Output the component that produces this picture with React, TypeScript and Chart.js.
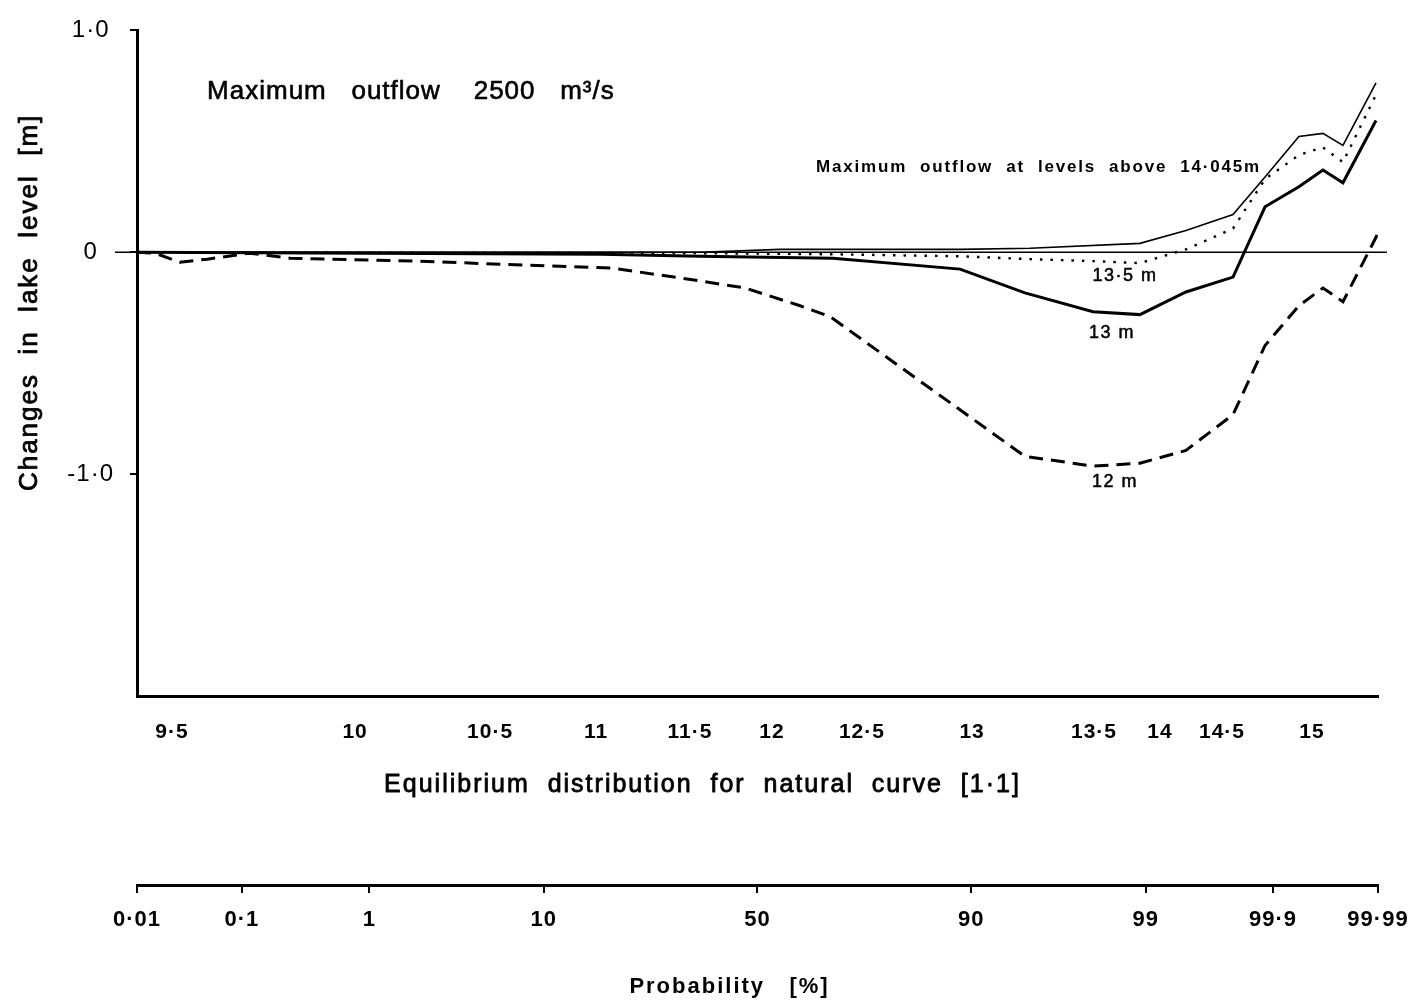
import { useEffect, useRef } from "react";
import { Chart, registerables } from "chart.js";

Chart.register(...registerables);

const W = 1427;
const H = 1005;
const FAMILY = "'Liberation Sans', Arial, Helvetica, sans-serif";

// Probability axis (%), plotted on a normal-probability scale
const probabilityTicks = [0.01, 0.1, 1, 10, 50, 90, 99, 99.9, 99.99];
const probabilityLabels = ["0·01", "0·1", "1", "10", "50", "90", "99", "99·9", "99·99"];

// Natural-curve lake levels (m) and their standard normal deviates
const levelLabels = ["9·5", "10", "10·5", "11", "11·5", "12", "12·5", "13", "13·5", "14", "14·5", "15"];
const levelDeviates = [-3.509, -2.412, -1.603, -0.968, -0.405, 0.087, 0.626, 1.286, 2.017, 2.412, 2.784, 3.323];

// Change in lake level (m)
const changeTicks = [1, 0, -1];

// Maximum outflow at levels above 14·045 m
const maxOutflowDeviate = [-3.719, -0.345, 0.135, 1.214, 1.633, 2.292, 2.568, 2.85, 3.042, 3.245, 3.389, 3.509, 3.707];
const maxOutflowChange = [0, 0, 0.013, 0.013, 0.018, 0.04, 0.098, 0.17, 0.339, 0.522, 0.536, 0.482, 0.763];

// 13·5 m
const level135Deviate = [-3.719, -0.345, 0.435, 1.214, 1.633, 2.011, 2.292, 2.568, 2.85, 3.042, 3.245, 3.389, 3.509, 3.707];
const level135Change = [0, -0.004, -0.009, -0.018, -0.031, -0.04, -0.049, 0.013, 0.107, 0.33, 0.438, 0.473, 0.406, 0.71];

// 13 m
const level13Deviate = [-3.719, -0.944, -0.345, 0.452, 1.214, 1.603, 2.011, 2.292, 2.568, 2.85, 3.042, 3.245, 3.389, 3.509, 3.707];
const level13Change = [0, -0.009, -0.018, -0.027, -0.076, -0.183, -0.268, -0.281, -0.179, -0.112, 0.205, 0.295, 0.371, 0.313, 0.594];

// 12 m
const level12Deviate = [-3.719, -3.611, -3.461, -3.299, -3.042, -2.802, -2.023, -1.543, -0.872, -0.345, -0.075, 0.255, 0.435, 1.603, 2.011, 2.292, 2.568, 2.85, 3.042, 3.245, 3.389, 3.509, 3.719];
const level12Change = [0, -0.004, -0.045, -0.031, -0.004, -0.027, -0.04, -0.054, -0.071, -0.129, -0.161, -0.241, -0.29, -0.92, -0.964, -0.951, -0.893, -0.732, -0.42, -0.241, -0.161, -0.223, 0.085];

// Inverse of the standard normal distribution (Acklam's approximation)
function probit(p: number): number {
  const a = [-3.969683028665376e1, 2.209460984245205e2, -2.759285104469687e2, 1.38357751867269e2, -3.066479806614716e1, 2.506628277459239];
  const b = [-5.447609879822406e1, 1.615858368580409e2, -1.556989798598866e2, 6.680131188771972e1, -1.328068155288572e1];
  const c = [-7.784894002430293e-3, -3.223964580411365e-1, -2.400758277161838, -2.549732539343734, 4.374664141464968, 2.938163982698783];
  const d = [7.784695709041462e-3, 3.224671290700398e-1, 2.445134137142996, 3.754408661907416];
  const pLow = 0.02425;
  if (p < pLow) {
    const q = Math.sqrt(-2 * Math.log(p));
    return (((((c[0] * q + c[1]) * q + c[2]) * q + c[3]) * q + c[4]) * q + c[5]) / ((((d[0] * q + d[1]) * q + d[2]) * q + d[3]) * q + 1);
  }
  if (p <= 1 - pLow) {
    const q = p - 0.5;
    const r = q * q;
    return ((((((a[0] * r + a[1]) * r + a[2]) * r + a[3]) * r + a[4]) * r + a[5]) * q) / (((((b[0] * r + b[1]) * r + b[2]) * r + b[3]) * r + b[4]) * r + 1);
  }
  const q = Math.sqrt(-2 * Math.log(1 - p));
  return -(((((c[0] * q + c[1]) * q + c[2]) * q + c[3]) * q + c[4]) * q + c[5]) / ((((d[0] * q + d[1]) * q + d[2]) * q + d[3]) * q + 1);
}

const deviateMin = probit(0.0001);
const deviateMax = probit(0.9999);

const toPoints = (xs: number[], ys: number[]) => xs.map((x, i) => ({ x, y: ys[i] }));

function drawText(
  ctx: CanvasRenderingContext2D,
  text: string,
  x: number,
  y: number,
  font: string,
  align: CanvasTextAlign,
  spacing: number,
  weightStroke = 0,
  rotate = 0
) {
  ctx.save();
  (ctx as any).letterSpacing = `${spacing}px`;
  ctx.font = font;
  ctx.fillStyle = "#000";
  ctx.strokeStyle = "#000";
  ctx.textAlign = align;
  ctx.textBaseline = "middle";
  ctx.translate(x, y);
  if (rotate) ctx.rotate(rotate);
  ctx.fillText(text, 0, 0);
  if (weightStroke > 0) {
    ctx.lineWidth = weightStroke;
    ctx.lineJoin = "round";
    ctx.strokeText(text, 0, 0);
  }
  ctx.restore();
}

const decorations = {
  id: "decorations",
  beforeLayout(chart: any) {
    chart.ctx.letterSpacing = "1px";
  },
  beforeDraw(chart: any) {
    const { ctx } = chart;
    ctx.save();
    ctx.fillStyle = "#fff";
    ctx.fillRect(0, 0, chart.width, chart.height);
    ctx.restore();
    ctx.letterSpacing = "1px";
  },
  beforeDatasetsDraw(chart: any) {
    const { ctx, chartArea, scales } = chart;
    const y0 = scales.y.getPixelForValue(0);
    ctx.save();
    ctx.strokeStyle = "#000";
    ctx.lineWidth = 1.5;
    ctx.beginPath();
    ctx.moveTo(chartArea.left - 22, y0);
    ctx.lineTo(chartArea.right + 9, y0);
    ctx.stroke();
    ctx.restore();
  },
  afterDraw(chart: any) {
    const { ctx, chartArea, scales } = chart;
    const px = (v: number) => scales.x.getPixelForValue(v);
    const py = (v: number) => scales.y.getPixelForValue(v);

    drawText(ctx, "Maximum   outflow    2500   m³/s", px(-3.299), py(0.723), `26px ${FAMILY}`, "left", 1, 0.6);
    drawText(ctx, "Maximum  outflow  at  levels  above  14·045m", px(0.351), py(0.384), `bold 17px ${FAMILY}`, "left", 1.8);
    drawText(ctx, "13·5 m", px(2.203), py(-0.107), `18px ${FAMILY}`, "center", 1.5, 0.5);
    drawText(ctx, "13 m", px(2.125), py(-0.362), `18px ${FAMILY}`, "center", 1.5, 0.5);
    drawText(ctx, "12 m", px(2.143), py(-1.036), `18px ${FAMILY}`, "center", 1.5, 0.5);

    // axis titles
    const midY = chartArea.top + 272;
    drawText(ctx, "Changes  in  lake  level  [m]", 30, midY, `26px ${FAMILY}`, "center", 2, 0.8, -Math.PI / 2);
    const midX = (chartArea.left + chartArea.right) / 2;
    drawText(ctx, "Equilibrium  distribution  for  natural  curve  [1·1]", midX - 55, scales.x.top + 89, `25px ${FAMILY}`, "center", 2, 0.8);
    drawText(ctx, "Probability   [%]", midX - 28, scales.x2.top + 102, `bold 22px ${FAMILY}`, "center", 2);
  },
};

export default function App() {
  const ref = useRef<HTMLCanvasElement>(null);

  useEffect(() => {
    const canvas = ref.current;
    if (!canvas) return;
    const chart = new Chart(canvas, {
      type: "line",
      data: {
        datasets: [
          {
            label: "Maximum outflow at levels above 14·045 m",
            data: toPoints(maxOutflowDeviate, maxOutflowChange),
            borderColor: "#000",
            borderWidth: 1.6,
          },
          {
            label: "13·5 m",
            data: toPoints(level135Deviate, level135Change),
            borderColor: "#000",
            borderWidth: 2.4,
            borderDash: [2.5, 8],
          },
          {
            label: "13 m",
            data: toPoints(level13Deviate, level13Change),
            borderColor: "#000",
            borderWidth: 3,
          },
          {
            label: "12 m",
            data: toPoints(level12Deviate, level12Change),
            borderColor: "#000",
            borderWidth: 3,
            borderDash: [14, 8],
          },
        ],
      },
      options: {
        responsive: false,
        animation: false,
        devicePixelRatio: 1,
        parsing: false,
        elements: {
          point: { radius: 0 },
          line: { tension: 0, fill: false, borderJoinStyle: "miter" },
        },
        layout: { padding: { top: 23, right: 49, bottom: 0, left: 0 } },
        plugins: {
          legend: { display: false },
          tooltip: { enabled: false },
          title: { display: false },
        },
        scales: {
          x: {
            type: "linear",
            position: "bottom",
            weight: 0,
            min: deviateMin,
            max: deviateMax,
            afterBuildTicks: (s: any) => {
              s.ticks = levelDeviates.map((v) => ({ value: v }));
            },
            afterFit: (s: any) => {
              s.height = 189;
            },
            ticks: {
              autoSkip: false,
              maxRotation: 0,
              padding: 24,
              color: "#000",
              font: { family: FAMILY, size: 21, weight: "bold" },
              callback: (_v: any, i: number) => levelLabels[i],
            },
            grid: { display: true, drawOnChartArea: false, drawTicks: false },
            border: { display: true, color: "#000", width: 3 },
          },
          x2: {
            type: "linear",
            position: "bottom",
            weight: 1,
            min: deviateMin,
            max: deviateMax,
            afterBuildTicks: (s: any) => {
              s.ticks = probabilityTicks.map((p) => ({ value: probit(p / 100) }));
            },
            afterFit: (s: any) => {
              s.height = H - 696 - 189;
            },
            ticks: {
              autoSkip: false,
              maxRotation: 0,
              padding: 14,
              color: "#000",
              font: { family: FAMILY, size: 22, weight: "bold" },
              callback: (_v: any, i: number) => probabilityLabels[i],
            },
            grid: { display: true, drawOnChartArea: false, drawTicks: true, tickLength: 8, color: "#000", lineWidth: 2 },
            border: { display: true, color: "#000", width: 3 },
          },
          y: {
            type: "linear",
            position: "left",
            min: -2,
            max: 1,
            afterBuildTicks: (s: any) => {
              s.ticks = changeTicks.map((v) => ({ value: v }));
            },
            afterFit: (s: any) => {
              s.width = 137;
            },
            ticks: {
              padding: 16,
              crossAlign: "center",
              color: "#000",
              font: { family: FAMILY, size: 24 },
              callback: (v: any) => (v === 0 ? "0" : Number(v).toFixed(1).replace(".", "·")),
            },
            grid: { display: true, drawOnChartArea: false, drawTicks: true, tickLength: 7, color: "#000", lineWidth: 2 },
            border: { display: true, color: "#000", width: 3 },
          },
        },
      } as any,
      plugins: [decorations],
    });
    return () => chart.destroy();
  }, []);

  return (
    <div style={{ position: "absolute", left: 0, top: 0, width: W, height: H, background: "#fff" }}>
      <canvas ref={ref} width={W} height={H} style={{ display: "block", width: W, height: H }} />
    </div>
  );
}
